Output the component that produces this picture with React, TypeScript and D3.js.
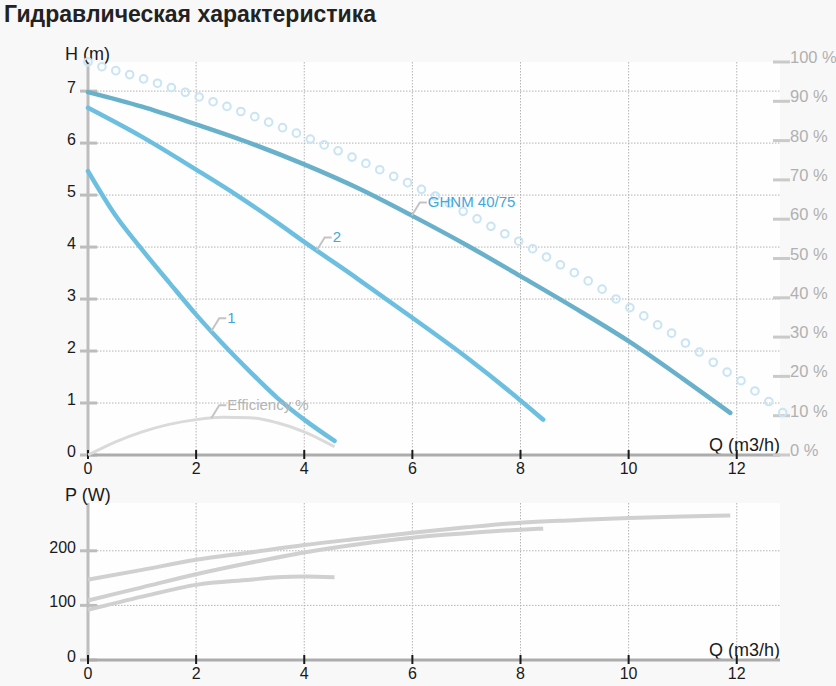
import { useEffect, useRef } from 'react';
import * as d3 from 'd3';

// tick labels
const qTicks = [0, 2, 4, 6, 8, 10, 12];
const hTicks = [0, 1, 2, 3, 4, 5, 6, 7];
const pctTicks = [0, 10, 20, 30, 40, 50, 60, 70, 80, 90, 100];
const pTicks = [0, 100, 200];

// pump curves, H (m) over Q (m3/h)
const mainQ = [0, 1, 2, 3, 4, 5, 6, 7, 8, 9, 10, 11, 11.88];
const mainH = [6.98, 6.7, 6.36, 6.0, 5.59, 5.13, 4.6, 4.04, 3.44, 2.83, 2.19, 1.47, 0.81];
const curve2Q = [0, 1, 2, 2.75, 3.5, 4, 5, 6, 7, 8, 8.42];
const curve2H = [6.68, 6.12, 5.49, 5.0, 4.47, 4.1, 3.38, 2.64, 1.88, 1.05, 0.68];
const curve1Q = [0, 0.5, 1, 1.5, 2, 2.5, 3, 3.5, 4, 4.56];
const curve1H = [5.46, 4.62, 3.95, 3.32, 2.7, 2.13, 1.6, 1.1, 0.68, 0.27];

// efficiency, % over Q
const effQ = [0, 0.5, 1, 1.5, 2, 2.5, 3, 3.5, 4, 4.56];
const effPct = [0, 3.3, 5.9, 7.8, 9.0, 9.6, 9.5, 8.2, 5.9, 2.1];

// dotted reference, %, one value per 0.257 m3/h step
const dotStep = 0.257;
const dotPct = [
  100, 98.8, 97.8, 96.8, 95.7, 94.6, 93.5, 92.3, 91.1, 89.9,
  88.7, 87.4, 86.1, 84.7, 83.3, 81.9, 80.4, 78.9, 77.4, 75.8,
  74.2, 72.6, 70.9, 69.3, 67.6, 65.9, 64.0, 62.0, 60.1, 58.2,
  56.3, 54.4, 52.5, 50.4, 48.4, 46.4, 44.3, 42.2, 39.7, 37.5,
  35.4, 33.1, 31.0, 28.5, 26.2, 23.6, 21.1, 18.9, 16.3, 13.6, 10.8,
];

// power, W over Q
const mainPQ = [0, 1, 2, 3, 4, 5, 6, 7, 8, 9, 10, 11, 11.88];
const mainP = [147, 165, 183.5, 197, 210.5, 222, 233, 243, 251.5, 256, 260, 263, 264.5];
const p2Q = [0, 1, 2, 3, 4, 5, 6, 7, 8, 8.42];
const p2 = [109, 133, 157, 178, 197, 212, 224, 232, 238.5, 240.5];
const p1Q = [0, 1, 2, 3, 3.5, 4, 4.56];
const p1 = [91.7, 116, 137.6, 147, 151.5, 153, 151.7];

const FONT = '"Liberation Sans", Arial, sans-serif';

export default function App() {
  const svgRef = useRef<SVGSVGElement>(null);

  useEffect(() => {
    if (!svgRef.current) return;
    const svg = d3.select(svgRef.current);
    svg.selectAll('*').remove();

    const width = 836;
    const height = 686;
    svg.attr('width', width).attr('height', height).style('font-family', FONT);

    const x = d3.scaleLinear().domain([0, 12.8]).range([88, 780]);
    const yH = d3.scaleLinear().domain([0, 7.56]).range([455, 62]);
    const yPct = d3.scaleLinear().domain([0, 100]).range([455, 62]);
    const yP = d3.scaleLinear().domain([0, 287.5]).range([660, 503]);

    svg.append('rect').attr('width', width).attr('height', height).attr('fill', '#f8f8f8');

    svg.append('text')
      .attr('x', 4).attr('y', 22)
      .attr('font-size', '23px').attr('font-weight', 'bold').attr('fill', '#222')
      .text('Гидравлическая характеристика');

    const panel = (yScale: d3.ScaleLinear<number, number>, yTickVals: number[], yTitle: string) => {
      const [y0, y1] = yScale.range();
      const g = svg.append('g');
      g.append('rect')
        .attr('x', x(0)).attr('y', y1)
        .attr('width', x(12.8) - x(0)).attr('height', y0 - y1)
        .attr('fill', '#fefefe');

      // grid
      g.selectAll('.vgrid')
        .data(qTicks.filter((d) => d > 0))
        .enter().append('line')
        .attr('x1', (d) => x(d)).attr('x2', (d) => x(d))
        .attr('y1', y1).attr('y2', y0)
        .attr('stroke', '#b4b4b4').attr('stroke-dasharray', '1.5,1.5');
      g.selectAll('.hgrid')
        .data(yTickVals.filter((d) => d > 0))
        .enter().append('line')
        .attr('x1', x(0)).attr('x2', x(12.8))
        .attr('y1', (d) => yScale(d)).attr('y2', (d) => yScale(d))
        .attr('stroke', '#b4b4b4').attr('stroke-dasharray', '1.5,1.5');

      // left axis
      g.append('line')
        .attr('x1', x(0)).attr('x2', x(0)).attr('y1', y1).attr('y2', y0)
        .attr('stroke', '#bdbdbd').attr('stroke-width', 3);
      g.selectAll('.ltick')
        .data(yTickVals)
        .enter().append('line')
        .attr('x1', 80).attr('x2', 97)
        .attr('y1', (d) => yScale(d)).attr('y2', (d) => yScale(d))
        .attr('stroke', '#bdbdbd').attr('stroke-width', 3);
      g.selectAll('.llabel')
        .data(yTickVals)
        .enter().append('text')
        .attr('x', 76).attr('y', (d) => yScale(d) + 2)
        .attr('text-anchor', 'end').attr('font-size', '16px').attr('fill', '#1a1a1a')
        .text((d) => d);
      g.append('text')
        .attr('x', 65).attr('y', y1 - 2)
        .attr('font-size', '18px').attr('fill', '#1a1a1a')
        .text(yTitle);

      // bottom axis
      g.append('text')
        .attr('x', 780).attr('y', y0 - 4)
        .attr('text-anchor', 'end').attr('font-size', '18px').attr('fill', '#1a1a1a')
        .text('Q (m3/h)');
      g.append('line')
        .attr('x1', x(0)).attr('x2', x(12.8)).attr('y1', y0).attr('y2', y0)
        .attr('stroke', '#acacac').attr('stroke-width', 3);
      g.selectAll('.btick')
        .data(qTicks)
        .enter().append('line')
        .attr('x1', (d) => x(d)).attr('x2', (d) => x(d))
        .attr('y1', y0 - 5).attr('y2', y0 + 4)
        .attr('stroke', '#1a1a1a').attr('stroke-width', 2);
      g.selectAll('.blabel')
        .data(qTicks)
        .enter().append('text')
        .attr('x', (d) => x(d)).attr('y', y0 + 19)
        .attr('text-anchor', 'middle').attr('font-size', '16px').attr('fill', '#1a1a1a')
        .text((d) => d);
    };

    panel(yH, hTicks, 'H (m)');
    panel(yP, pTicks, 'P (W)');

    // right percent axis
    svg.selectAll('.rtick')
      .data(pctTicks)
      .enter().append('line')
      .attr('x1', 773).attr('x2', 790)
      .attr('y1', (d) => yPct(d)).attr('y2', (d) => yPct(d))
      .attr('stroke', '#cacaca').attr('stroke-width', 3);
    svg.selectAll('.rlabel')
      .data(pctTicks)
      .enter().append('text')
      .attr('x', 790).attr('y', (d) => yPct(d) + 1)
      .attr('font-size', '16.5px').attr('fill', '#b0b0b0')
      .text((d) => `${d} %`);

    const line = (ys: d3.ScaleLinear<number, number>) =>
      d3.line<[number, number]>()
        .x((d) => x(d[0]))
        .y((d) => ys(d[1]))
        .curve(d3.curveMonotoneX);

    const pairs = (qs: number[], vs: number[]) => qs.map((q, i) => [q, vs[i]] as [number, number]);

    // dotted reference circles
    svg.selectAll('.dot')
      .data(dotPct)
      .enter().append('circle')
      .attr('cx', (d, i) => x(i * dotStep))
      .attr('cy', (d) => yPct(d))
      .attr('r', 3.8)
      .attr('fill', 'none')
      .attr('stroke', '#c9e4f2')
      .attr('stroke-width', 2);

    // efficiency
    svg.append('path')
      .attr('d', line(yPct)(pairs(effQ, effPct)))
      .attr('fill', 'none').attr('stroke', '#dadada').attr('stroke-width', 3);

    // power curves
    [pairs(mainPQ, mainP), pairs(p2Q, p2), pairs(p1Q, p1)].forEach((pts) => {
      svg.append('path')
        .attr('d', line(yP)(pts))
        .attr('fill', 'none').attr('stroke', '#d0d0d0').attr('stroke-width', 4);
    });

    // head curves
    const heads = [
      { pts: pairs(curve1Q, curve1H), color: '#6dbfe0', label: '1', at: 2.28 },
      { pts: pairs(curve2Q, curve2H), color: '#6dbfe0', label: '2', at: 4.23 },
      { pts: pairs(mainQ, mainH), color: '#69b0ca', label: 'GHNM 40/75', at: 5.99 },
    ];
    heads.forEach((c) => {
      svg.append('path')
        .attr('d', line(yH)(c.pts))
        .attr('fill', 'none').attr('stroke', c.color).attr('stroke-width', 4.5)
        .attr('stroke-linecap', 'round');
    });

    // curve labels with leaders
    const interp = (pts: [number, number][], q: number) => {
      const i = Math.max(1, d3.bisector((d: [number, number]) => d[0]).left(pts, q));
      const [qa, va] = pts[i - 1];
      const [qb, vb] = pts[i];
      return va + ((q - qa) / (qb - qa)) * (vb - va);
    };
    const labels = [
      ...heads.map((c) => ({ px: x(c.at), py: yH(interp(c.pts, c.at)), text: c.label, color: '#45a6da' })),
      { px: x(2.28), py: yPct(interp(pairs(effQ, effPct), 2.28)), text: 'Efficiency %', color: '#b4b4b4' },
    ];
    labels.forEach((l) => {
      svg.append('path')
        .attr('d', `M${l.px},${l.py}L${l.px + 8},${l.py - 13}H${l.px + 15}`)
        .attr('fill', 'none').attr('stroke', '#c4c4c4').attr('stroke-width', 2);
      svg.append('text')
        .attr('x', l.px + 16).attr('y', l.py - 8.5)
        .attr('font-size', '15px').attr('fill', l.color)
        .text(l.text);
    });
  }, []);

  return (
    <div style={{ position: 'absolute', left: 0, top: 0 }}>
      <svg ref={svgRef}></svg>
    </div>
  );
}
